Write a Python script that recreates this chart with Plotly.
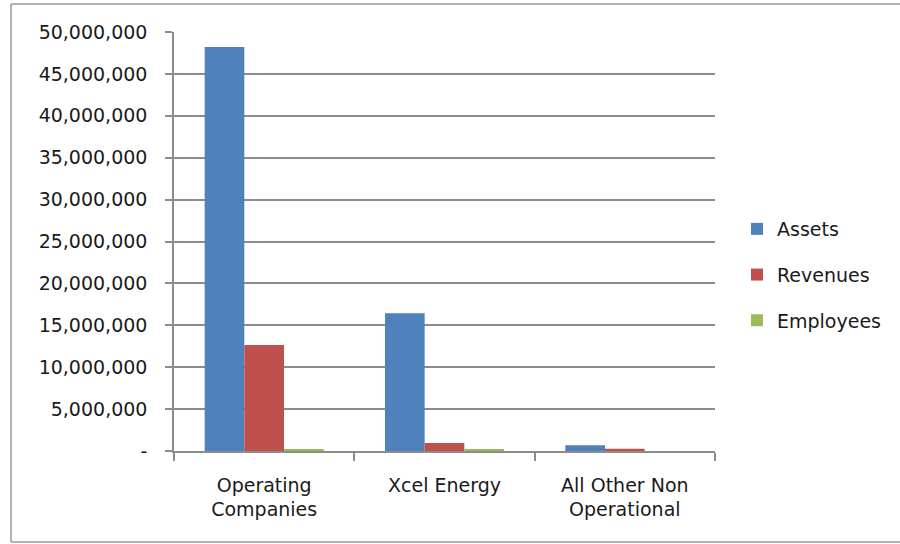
import plotly.graph_objects as go

categories = ["Operating<br>Companies", "Xcel Energy", "All Other Non<br>Operational"]
assets = [48200000, 16450000, 700000]
revenues = [12650000, 950000, 280000]
employees = [230000, 220000, 0]
series_names = ["Assets", "Revenues", "Employees"]
series_colors = ["#4F81BD", "#C0504D", "#9BBB59"]
y_tickvals = [0, 5000000, 10000000, 15000000, 20000000, 25000000, 30000000, 35000000, 40000000, 45000000, 50000000]
y_ticktext = ["-", "5,000,000", "10,000,000", "15,000,000", "20,000,000", "25,000,000",
              "30,000,000", "35,000,000", "40,000,000", "45,000,000", "50,000,000"]

FONT = "DejaVu Sans"
fig = go.Figure()
for name, vals, col in zip(series_names, [assets, revenues, employees], series_colors):
    fig.add_trace(go.Bar(x=categories, y=vals, name=name, marker=dict(color=col, line=dict(width=0)),
                         legendgroup=name))

W, H = 900, 544
L, R, T, B = 174, 185, 32, 93
pw, ph = W - L - R, H - T - B

def px_x(p):
    return (p - L) / pw

def px_y(p):
    return (H - B - p) / ph

border = dict(color="#9a9a9a", width=1.5)
fig.update_layout(
    width=W, height=H,
    margin=dict(l=L, r=R, t=T, b=B, autoexpand=False),
    paper_bgcolor="white", plot_bgcolor="white",
    barmode="group", bargap=0.34, bargroupgap=0,
    font=dict(family=FONT, size=18, color="#1a1a1a"),
    legend=dict(x=px_x(737), y=px_y(275), xanchor="left", yanchor="middle",
                font=dict(family=FONT, size=19, color="#1a1a1a"),
                tracegroupgap=18, bgcolor="rgba(0,0,0,0)"),
    xaxis=dict(showline=True, linecolor="#8c8c8c", linewidth=1.5, ticks="outside",
               tickson="boundaries", ticklen=8, tickcolor="#8c8c8c", tickwidth=1.5,
               showgrid=False, tickfont=dict(family=FONT, size=19, color="#1a1a1a"),
               ticklabelstandoff=16),
    yaxis=dict(range=[0, 50000000], tickvals=y_tickvals, ticktext=y_ticktext,
               showline=True, linecolor="#8c8c8c", linewidth=1.5, ticks="outside",
               ticklen=7, tickcolor="#8c8c8c", tickwidth=1.5,
               showgrid=True, gridcolor="#8c8c8c", gridwidth=1.5, zeroline=False,
               tickfont=dict(family=FONT, size=19, color="#1a1a1a"), ticklabelstandoff=14),
    shapes=[
        dict(type="line", xref="paper", yref="paper", x0=px_x(11), x1=px_x(11),
             y0=px_y(542), y1=px_y(4), line=border, layer="below"),
        dict(type="line", xref="paper", yref="paper", x0=px_x(11), x1=px_x(900),
             y0=px_y(4), y1=px_y(4), line=border, layer="below"),
        dict(type="line", xref="paper", yref="paper", x0=px_x(11), x1=px_x(900),
             y0=px_y(542), y1=px_y(542), line=border, layer="below"),
    ],
)

fig.write_html("out.html")
